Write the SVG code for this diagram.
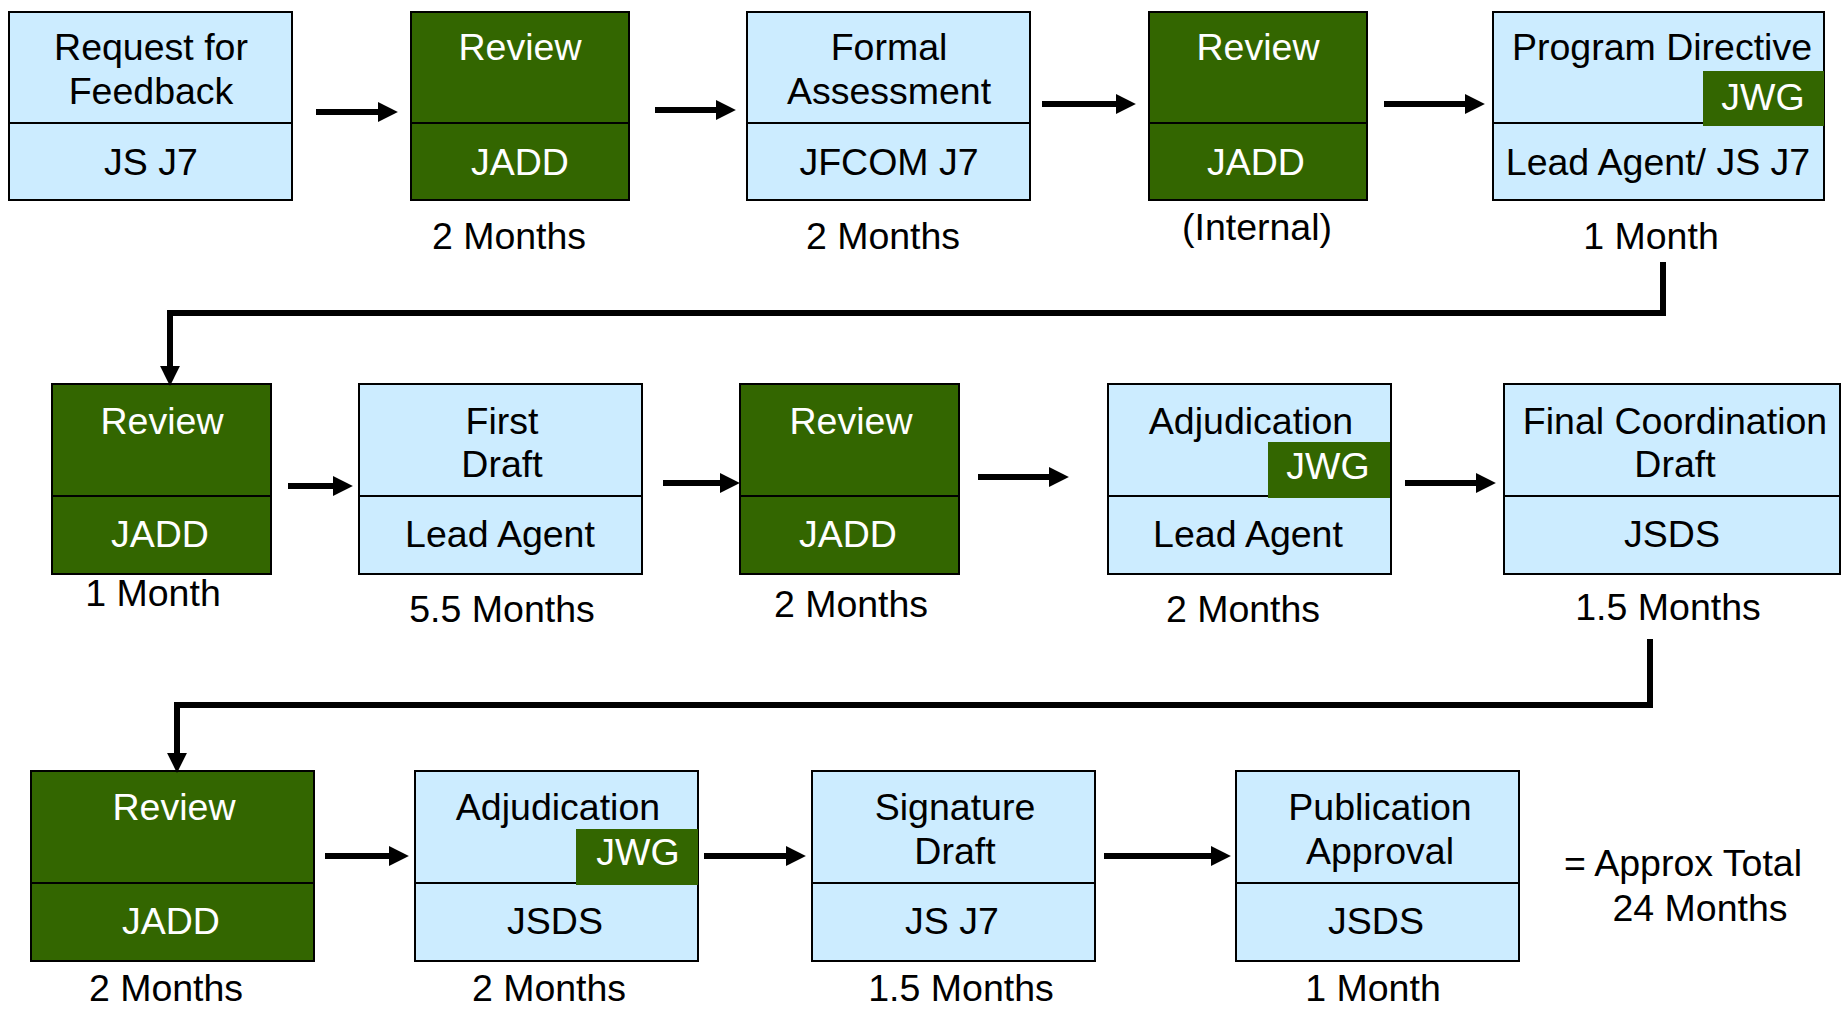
<svg xmlns="http://www.w3.org/2000/svg" width="1848" height="1015" viewBox="0 0 1848 1015">
<defs>
<style>
.blue{fill:#CCECFF;stroke:#000;stroke-width:2}
.green{fill:#336600;stroke:#000;stroke-width:2}
.div{stroke:#000;stroke-width:2}
.badge{fill:#336600}
text{font-family:"Liberation Sans",Arial,sans-serif;font-size:37.5px;text-anchor:middle}
.dk{fill:#000}
.wt{fill:#fff}
.arr{stroke:#000;stroke-width:6;fill:none}
</style>
<marker id="ah" markerUnits="userSpaceOnUse" markerWidth="20" markerHeight="20" refX="1" refY="9" orient="auto" viewBox="0 0 18 18">
<path d="M0,0 L18,9 L0,18 z" fill="#000"/>
</marker>
</defs>

<g id="n1"><rect class="blue" x="9" y="12" width="283" height="188"/><line class="div" x1="9" y1="123" x2="292" y2="123"/>
<text class="dk" x="151" y="60">Request for</text><text class="dk" x="151" y="104">Feedback</text><text class="dk" x="151" y="175">JS J7</text></g>

<g id="n2"><rect class="green" x="411" y="12" width="218" height="188"/><line class="div" x1="411" y1="123" x2="629" y2="123"/>
<text class="wt" x="520" y="60">Review</text><text class="wt" x="520" y="175">JADD</text><text class="dk" x="509" y="249">2 Months</text></g>

<g id="n3"><rect class="blue" x="747" y="12" width="283" height="188"/><line class="div" x1="747" y1="123" x2="1030" y2="123"/>
<text class="dk" x="889" y="60">Formal</text><text class="dk" x="889" y="104">Assessment</text><text class="dk" x="889" y="175">JFCOM J7</text><text class="dk" x="883" y="249">2 Months</text></g>

<g id="n4"><rect class="green" x="1149" y="12" width="218" height="188"/><line class="div" x1="1149" y1="123" x2="1367" y2="123"/>
<text class="wt" x="1258" y="60">Review</text><text class="wt" x="1256" y="175">JADD</text><text class="dk" x="1257" y="240">(Internal)</text></g>

<g id="n5"><rect class="blue" x="1493" y="12" width="331" height="188"/><line class="div" x1="1493" y1="123" x2="1824" y2="123"/>
<rect class="badge" x="1703" y="71" width="121" height="55"/>
<text class="dk" x="1662" y="60">Program Directive</text><text class="wt" x="1763" y="110">JWG</text><text class="dk" x="1658" y="175">Lead Agent/ JS J7</text><text class="dk" x="1651" y="249">1 Month</text></g>

<g id="n6"><rect class="green" x="52" y="384" width="219" height="190"/><line class="div" x1="52" y1="496" x2="271" y2="496"/>
<text class="wt" x="162" y="434">Review</text><text class="wt" x="160" y="547">JADD</text><text class="dk" x="153" y="606">1 Month</text></g>

<g id="n7"><rect class="blue" x="359" y="384" width="283" height="190"/><line class="div" x1="359" y1="496" x2="642" y2="496"/>
<text class="dk" x="502" y="434">First</text><text class="dk" x="502" y="477">Draft</text><text class="dk" x="500" y="547">Lead Agent</text><text class="dk" x="502" y="622">5.5 Months</text></g>

<g id="n8"><rect class="green" x="740" y="384" width="219" height="190"/><line class="div" x1="740" y1="496" x2="959" y2="496"/>
<text class="wt" x="851" y="434">Review</text><text class="wt" x="848" y="547">JADD</text><text class="dk" x="851" y="617">2 Months</text></g>

<g id="n9"><rect class="blue" x="1108" y="384" width="283" height="190"/><line class="div" x1="1108" y1="496" x2="1391" y2="496"/>
<rect class="badge" x="1268" y="442" width="122" height="56"/>
<text class="dk" x="1251" y="434">Adjudication</text><text class="wt" x="1328" y="479">JWG</text><text class="dk" x="1248" y="547">Lead Agent</text><text class="dk" x="1243" y="622">2 Months</text></g>

<g id="n10"><rect class="blue" x="1504" y="384" width="336" height="190"/><line class="div" x1="1504" y1="496" x2="1840" y2="496"/>
<text class="dk" x="1675" y="434">Final Coordination</text><text class="dk" x="1675" y="477">Draft</text><text class="dk" x="1672" y="547">JSDS</text><text class="dk" x="1668" y="620">1.5 Months</text></g>

<g id="n11"><rect class="green" x="31" y="771" width="283" height="190"/><line class="div" x1="31" y1="883" x2="314" y2="883"/>
<text class="wt" x="174" y="820">Review</text><text class="wt" x="171" y="934">JADD</text><text class="dk" x="166" y="1001">2 Months</text></g>

<g id="n12"><rect class="blue" x="415" y="771" width="283" height="190"/><line class="div" x1="415" y1="883" x2="698" y2="883"/>
<rect class="badge" x="576" y="829" width="122" height="56"/>
<text class="dk" x="558" y="820">Adjudication</text><text class="wt" x="638" y="865">JWG</text><text class="dk" x="555" y="934">JSDS</text><text class="dk" x="549" y="1001">2 Months</text></g>

<g id="n13"><rect class="blue" x="812" y="771" width="283" height="190"/><line class="div" x1="812" y1="883" x2="1095" y2="883"/>
<text class="dk" x="955" y="820">Signature</text><text class="dk" x="955" y="864">Draft</text><text class="dk" x="952" y="934">JS J7</text><text class="dk" x="961" y="1001">1.5 Months</text></g>

<g id="n14"><rect class="blue" x="1236" y="771" width="283" height="190"/><line class="div" x1="1236" y1="883" x2="1519" y2="883"/>
<text class="dk" x="1380" y="820">Publication</text><text class="dk" x="1380" y="864">Approval</text><text class="dk" x="1376" y="934">JSDS</text><text class="dk" x="1373" y="1001">1 Month</text></g>

<g id="total"><text class="dk" x="1683" y="876">= Approx Total</text><text class="dk" x="1700" y="921">24 Months</text></g>

<g id="connectors">
<line class="arr" x1="316" y1="112" x2="379" y2="112" marker-end="url(#ah)"/>
<line class="arr" x1="655" y1="110" x2="717" y2="110" marker-end="url(#ah)"/>
<line class="arr" x1="1042" y1="104" x2="1117" y2="104" marker-end="url(#ah)"/>
<line class="arr" x1="1384" y1="104" x2="1466" y2="104" marker-end="url(#ah)"/>
<polyline class="arr" points="1663,262 1663,313 170,313 170,367" marker-end="url(#ah)"/>
<line class="arr" x1="288" y1="486" x2="334" y2="486" marker-end="url(#ah)"/>
<line class="arr" x1="663" y1="483" x2="721" y2="483" marker-end="url(#ah)"/>
<line class="arr" x1="978" y1="477" x2="1050" y2="477" marker-end="url(#ah)"/>
<line class="arr" x1="1405" y1="483" x2="1477" y2="483" marker-end="url(#ah)"/>
<polyline class="arr" points="1650,639 1650,705 177,705 177,754" marker-end="url(#ah)"/>
<line class="arr" x1="325" y1="856" x2="390" y2="856" marker-end="url(#ah)"/>
<line class="arr" x1="704" y1="856" x2="787" y2="856" marker-end="url(#ah)"/>
<line class="arr" x1="1104" y1="856" x2="1212" y2="856" marker-end="url(#ah)"/>
</g>
</svg>
